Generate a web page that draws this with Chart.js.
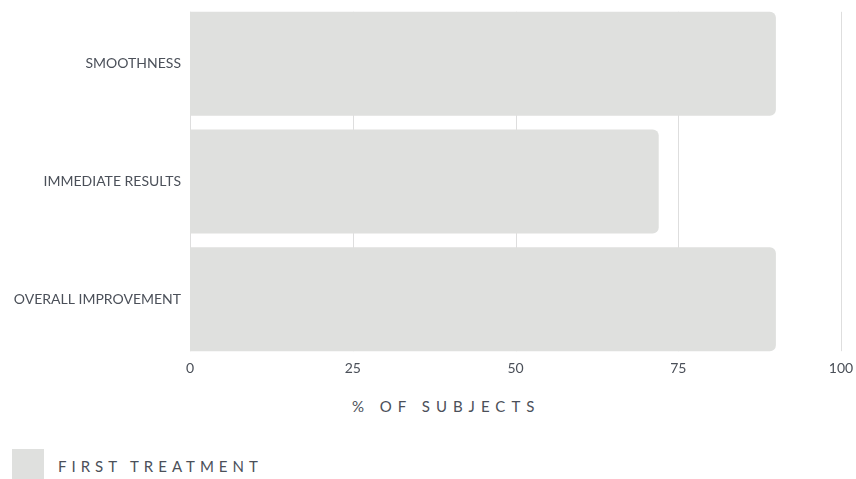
<!DOCTYPE html>
<html>
<head>
<meta charset="utf-8">
<script src="https://cdn.jsdelivr.net/npm/chart.js@4/dist/chart.umd.min.js"></script>
<style>
  html, body { margin: 0; padding: 0; background: #fff; }
  .wrap { position: relative; width: 856px; height: 479px; overflow: hidden; font-family: Lato, sans-serif; }
  .chartBox { position: absolute; left: 0; top: 0; width: 856px; height: 380px; }
  .axisTitle, .legendText {
    position: absolute; font-size: 15px; color: #4b5059; white-space: nowrap; line-height: 16px;
  }
  .axisTitle { left: 352px; top: 398px; letter-spacing: 6px; }
  .legendBox { position: absolute; left: 12px; top: 449px; width: 32px; height: 32px; background: #dfe0de; }
  .legendText { left: 58px; top: 458px; letter-spacing: 5px; }
</style>
</head>
<body>
<div class="wrap">
  <div class="chartBox"><canvas id="treatmentChart"></canvas></div>
  <div class="axisTitle">% OF SUBJECTS</div>
  <div class="legendBox"></div>
  <div class="legendText">FIRST TREATMENT</div>
</div>
<script>
const categories = ['SMOOTHNESS', 'IMMEDIATE RESULTS', 'OVERALL IMPROVEMENT'];
const firstTreatment = [90, 72, 90];
const xTicks = [0, 25, 50, 75, 100];

const barColor = '#dfe0de';
const textColor = '#4b5059';

// grid lines only between top of first bar and bottom of last bar
const gridPlugin = {
  id: 'barGrid',
  beforeDatasetsDraw(chart) {
    const x = chart.scales.x;
    const bars = chart.getDatasetMeta(0).data;
    if (!bars.length) return;
    const top = bars[0].y - bars[0].height / 2;
    const bottom = bars[bars.length - 1].y + bars[bars.length - 1].height / 2;
    const ctx = chart.ctx;
    ctx.save();
    ctx.strokeStyle = '#dedede';
    ctx.lineWidth = 1;
    x.ticks.forEach(t => {
      const px = Math.round(x.getPixelForValue(t.value)) + 0.5;
      ctx.beginPath();
      ctx.moveTo(px, top);
      ctx.lineTo(px, bottom);
      ctx.stroke();
    });
    ctx.restore();
  }
};

new Chart(document.getElementById('treatmentChart').getContext('2d'), {
  type: 'bar',
  data: {
    labels: categories,
    datasets: [{
      label: 'FIRST TREATMENT',
      data: firstTreatment,
      backgroundColor: barColor,
      borderRadius: 6,
      borderSkipped: 'start',
      barPercentage: 0.884,
      categoryPercentage: 1
    }]
  },
  options: {
    indexAxis: 'y',
    responsive: true,
    maintainAspectRatio: false,
    animation: false,
    layout: { padding: { top: 5, right: 15, left: 0, bottom: 0 } },
    plugins: {
      legend: { display: false },
      tooltip: { enabled: false }
    },
    scales: {
      x: {
        min: 0,
        max: 100,
        afterBuildTicks: scale => { scale.ticks = xTicks.map(v => ({ value: v })); },
        afterFit: scale => { scale.height = 22; },
        grid: { display: false, drawTicks: false },
        border: { display: false },
        ticks: { color: textColor, padding: 2, font: { family: 'Lato', size: 14 } }
      },
      y: {
        afterFit: scale => {
          scale.width = 190;
          scale.paddingTop = 0;
          scale.paddingBottom = 0;
        },
        grid: { display: false, drawTicks: false },
        border: { display: false },
        ticks: { color: textColor, padding: 9, font: { family: 'Lato', size: 14 } }
      }
    }
  },
  plugins: [gridPlugin]
});
</script>
</body>
</html>
